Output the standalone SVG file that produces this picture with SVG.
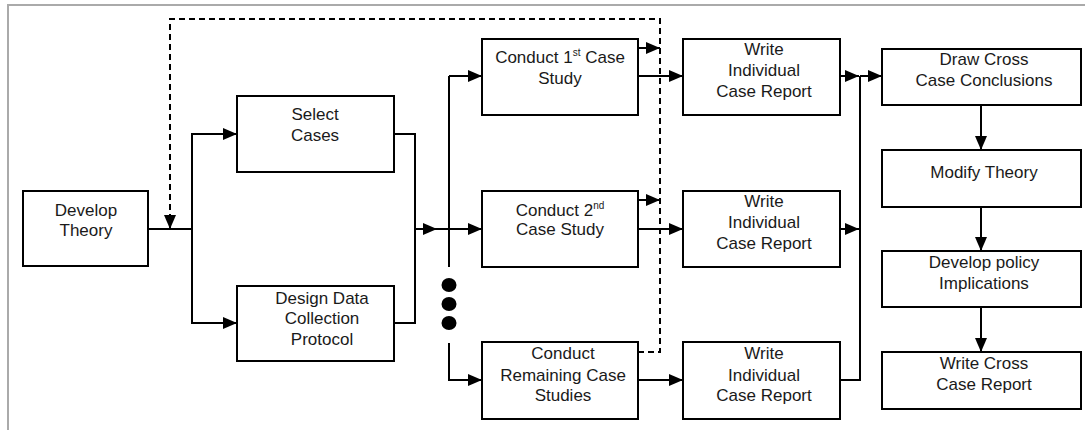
<svg xmlns="http://www.w3.org/2000/svg" width="1085" height="430" viewBox="0 0 1085 430">
<defs>
<marker id="arr" markerUnits="userSpaceOnUse" markerWidth="14" markerHeight="12" refX="14" refY="6" orient="auto">
<path d="M0,0 L14,6 L0,12 z" fill="#000"/>
</marker>
<style>
.box{fill:#fff;stroke:#000;stroke-width:2}
.t{font-family:"Liberation Sans",Arial,sans-serif;font-size:17px;fill:#1a1a1a;text-anchor:middle}
.c{fill:none;stroke:#000;stroke-width:2}
.a{marker-end:url(#arr)}
.d{fill:none;stroke:#000;stroke-width:2;stroke-dasharray:6 4}
.sup{font-size:10px}
</style>
</defs>
<rect width="1085" height="430" fill="#fff"/>
<path d="M8,430 V5 H1085" fill="none" stroke="#aaa" stroke-width="2"/>

<g id="develop-theory"><rect class="box" x="23" y="191" width="125" height="75"/><text class="t" x="86" y="216">Develop</text><text class="t" x="86" y="236">Theory</text></g>
<g id="select-cases"><rect class="box" x="237" y="96" width="157" height="76"/><text class="t" x="315" y="120">Select</text><text class="t" x="315" y="141">Cases</text></g>
<g id="design-protocol"><rect class="box" x="237" y="286" width="157" height="75"/><text class="t" x="322" y="304">Design Data</text><text class="t" x="322" y="324">Collection</text><text class="t" x="322" y="345">Protocol</text></g>

<g id="conduct-1"><rect class="box" x="482" y="39" width="156" height="76"/><text class="t" x="560" y="63">Conduct 1<tspan class="sup" dy="-7">st</tspan><tspan dy="7"> Case</tspan></text><text class="t" x="560" y="84">Study</text></g>
<g id="conduct-2"><rect class="box" x="482" y="191" width="156" height="76"/><text class="t" x="560" y="216">Conduct 2<tspan class="sup" dy="-7">nd</tspan></text><text class="t" x="560" y="235">Case Study</text></g>
<g id="conduct-remaining"><rect class="box" x="482" y="342" width="156" height="77"/><text class="t" x="563" y="359">Conduct</text><text class="t" x="563" y="381">Remaining Case</text><text class="t" x="563" y="401">Studies</text></g>

<g id="write-1"><rect class="box" x="683" y="39" width="157" height="76"/><text class="t" x="764" y="55">Write</text><text class="t" x="764" y="76">Individual</text><text class="t" x="764" y="97">Case Report</text></g>
<g id="write-2"><rect class="box" x="683" y="191" width="157" height="76"/><text class="t" x="764" y="207">Write</text><text class="t" x="764" y="228">Individual</text><text class="t" x="764" y="249">Case Report</text></g>
<g id="write-3"><rect class="box" x="683" y="342" width="157" height="77"/><text class="t" x="764" y="359">Write</text><text class="t" x="764" y="381">Individual</text><text class="t" x="764" y="401">Case Report</text></g>

<g id="draw-cross"><rect class="box" x="882" y="49" width="199" height="56"/><text class="t" x="984" y="65">Draw Cross</text><text class="t" x="984" y="86">Case Conclusions</text></g>
<g id="modify-theory"><rect class="box" x="882" y="150" width="199" height="57"/><text class="t" x="984" y="178">Modify Theory</text></g>
<g id="develop-policy"><rect class="box" x="882" y="251" width="199" height="56"/><text class="t" x="984" y="268">Develop policy</text><text class="t" x="984" y="289">Implications</text></g>
<g id="write-cross"><rect class="box" x="882" y="352" width="199" height="57"/><text class="t" x="984" y="369">Write Cross</text><text class="t" x="984" y="390">Case Report</text></g>

<g id="connectors">
<path class="c" d="M148,229 H192"/>
<path class="c a" d="M192,229 V134 H237"/>
<path class="c a" d="M192,229 V323 H237"/>
<path class="c" d="M394,134 H415 V323 H394"/>
<path class="c a" d="M415,229 H437"/>
<path class="c a" d="M437,229 H482"/>
<path class="c" d="M449,267 V76"/>
<path class="c a" d="M449,76 H482"/>
<path class="c a" d="M449,343 V380 H482"/>
<ellipse cx="449" cy="285" rx="7.5" ry="7"/>
<ellipse cx="449" cy="304" rx="7.5" ry="7"/>
<ellipse cx="449" cy="323" rx="7.5" ry="7"/>
<path class="c a" d="M638,76 H683"/>
<path class="c a" d="M638,229 H683"/>
<path class="c a" d="M638,380 H683"/>
<path class="c a" d="M638,48 H660"/>
<path class="c a" d="M638,200 H660"/>
<path class="d a" d="M638,352 H660 V19 H170 V229"/>
<path class="c a" d="M840,76 H859"/>
<path class="c a" d="M840,229 H859"/>
<path class="c" d="M840,380 H860 V76"/>
<path class="c a" d="M860,76 H882"/>
<path class="c a" d="M981,105 V150"/>
<path class="c a" d="M981,207 V251"/>
<path class="c a" d="M981,307 V352"/>
</g>
</svg>
